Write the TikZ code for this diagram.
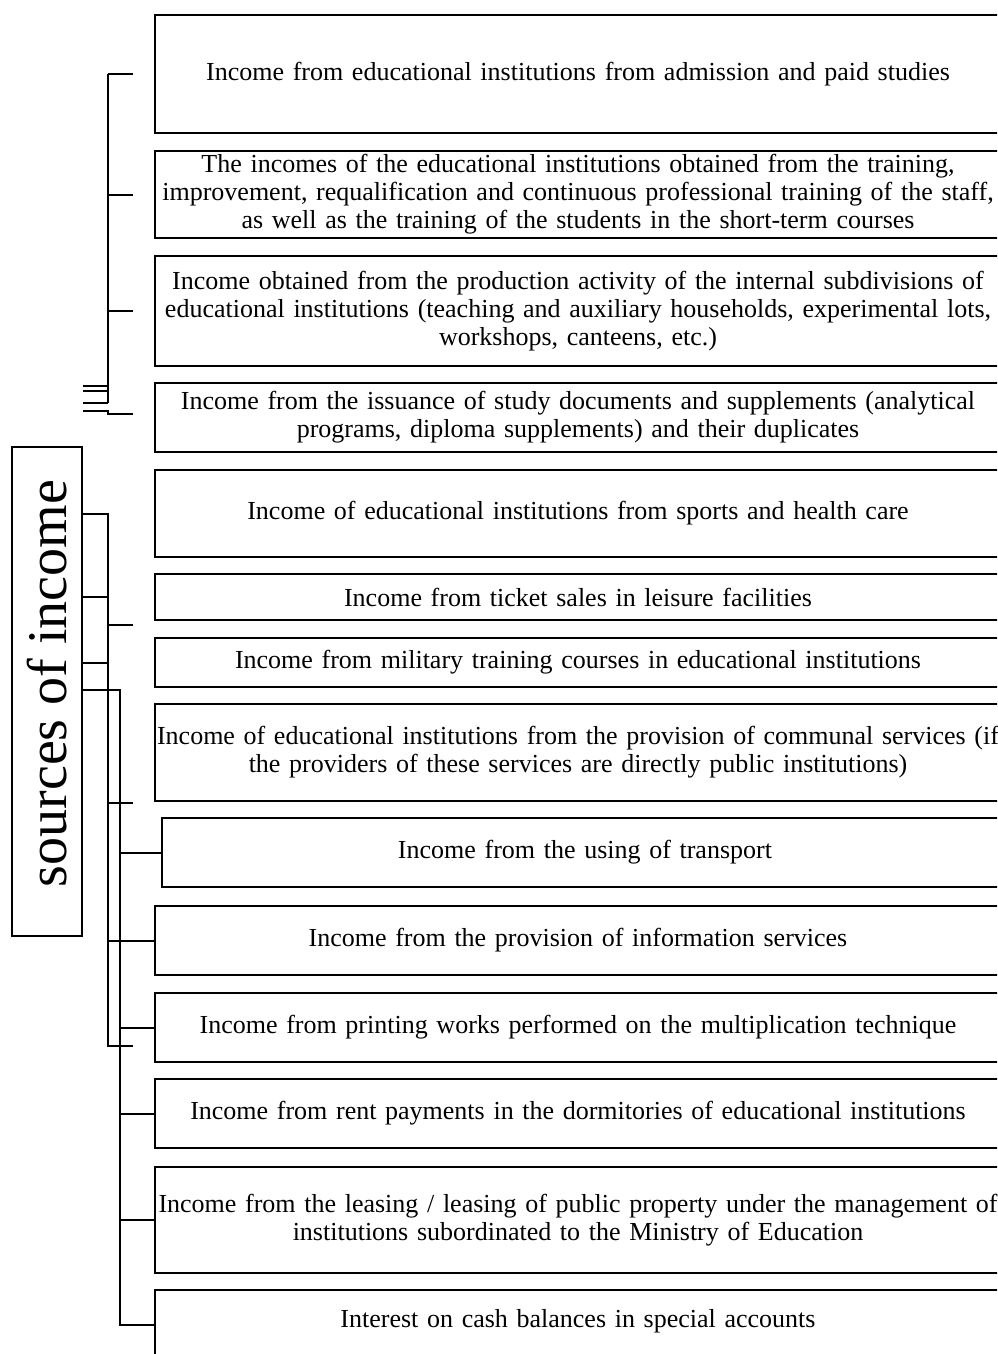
\documentclass[tikz,border=0pt]{standalone}
\usepackage{fontspec}
\setmainfont{Liberation Serif}
\newcommand{\incbox}[6][]{%
  \node[incbox,minimum height={(#5-#4)*0.5pt},#1] (#2) at ({#3+423},{(#4+#5)/2}) {#6};
}

\begin{document}
\begin{tikzpicture}[
      x=0.5pt, y=-0.5pt,
      line width=1pt,
      every node/.style={inner sep=0pt},
      incbox/.style={draw,line width=1pt,text width=423pt,align=center,
        font=\fontsize{13}{14}\selectfont},
      srcbox/.style={draw,line width=1pt,minimum width=35pt,minimum height=244.5pt,
        font=\fontsize{28}{30}\selectfont}
    ]
      \clip (0,0) rectangle (997,1354);
      \incbox{b1}{155}{15}{133}{Income from educational institutions from admission and paid studies}
      \incbox{b2}{155}{151}{238}{The incomes of the educational institutions obtained from the training,\\
        improvement, requalification and continuous professional training of the staff,\\
        as well as the training of the students in the short-term courses}
      \incbox{b3}{155}{256}{366}{Income obtained from the production activity of the internal subdivisions of\\
        educational institutions (teaching and auxiliary households, experimental lots,\\
        workshops, canteens, etc.)}
      \incbox{b4}{155}{383}{452}{Income from the issuance of study documents and supplements (analytical\\
        programs, diploma supplements) and their duplicates}
      \incbox{b5}{155}{470}{557}{Income of educational institutions from sports and health care}
      \incbox{b6}{155}{574}{620}{Income from ticket sales in leisure facilities}
      \incbox{b7}{155}{638}{687}{Income from military training courses in educational institutions}
      \incbox{b8}{155}{704}{801}{Income of educational institutions from the provision of communal services (if\\
        the providers of these services are directly public institutions)}
      \incbox{b9}{162}{818}{887}{Income from the using of transport}
      \incbox{b10}{155}{906}{975}{Income from the provision of information services}
      \incbox{b11}{155}{993}{1062}{Income from printing works performed on the multiplication technique}
      \incbox{b12}{155}{1079}{1148}{Income from rent payments in the dormitories of educational institutions}
      \incbox{b13}{155}{1167}{1273}{Income from the leasing / leasing of public property under the management of\\
        institutions subordinated to the Ministry of Education}
      \incbox[text depth=27pt]{b14}{155}{1290}{1400}{Interest on cash balances in special accounts}

      \node[srcbox] (src) at (47,691.5) {\rotatebox{90}{\hspace{8pt}sources of income}};

      \coordinate (busA) at (108,0);
      \coordinate (busB) at (120,0);
      \coordinate (stub) at (133,0);
      \coordinate (k1) at (0,386);
      \coordinate (k2) at (0,391);
      \coordinate (k3) at (0,403);
      \coordinate (k4) at (0,411);
      \coordinate (k5) at (0,414);
      \coordinate (k6) at (0,1046);
      \coordinate (k7) at (0,625);
      \coordinate (k8) at (0,803);
      \coordinate (k9) at (0,690);
      \coordinate (k10) at (0,1325);

      % upper bracket
      \draw (busA |- b1) -- (busA |- k3);
      \foreach \b in {b1,b2,b3}
        \draw (busA |- \b) -- (stub |- \b);
      \foreach \k in {k1,k2,k3}
        \draw (src.east |- \k) -- (busA |- \k);
      \draw (src.east |- k4) -- (busA |- k4) -- (busA |- k5) -- (stub |- k5);

      % lower lines
      \draw (src.east |- b5) -- (busA |- b5) -- (busA |- k6) -- (stub |- k6);
      \draw (src.east |- b6) -- (busA |- b6);
      \draw (src.east |- b7) -- (busA |- b7);
      \draw (busA |- k7) -- (stub |- k7);
      \draw (busA |- k8) -- (stub |- k8);
      \draw (busA |- b10) -- (b10.west);
      \draw (src.east |- k9) -- (busB |- k9) -- (busB |- k10) -- (b14.west |- k10);
      \foreach \b in {b9,b11,b12,b13}
        \draw (busB |- \b) -- (\b.west);
    \end{tikzpicture}
\end{document}
